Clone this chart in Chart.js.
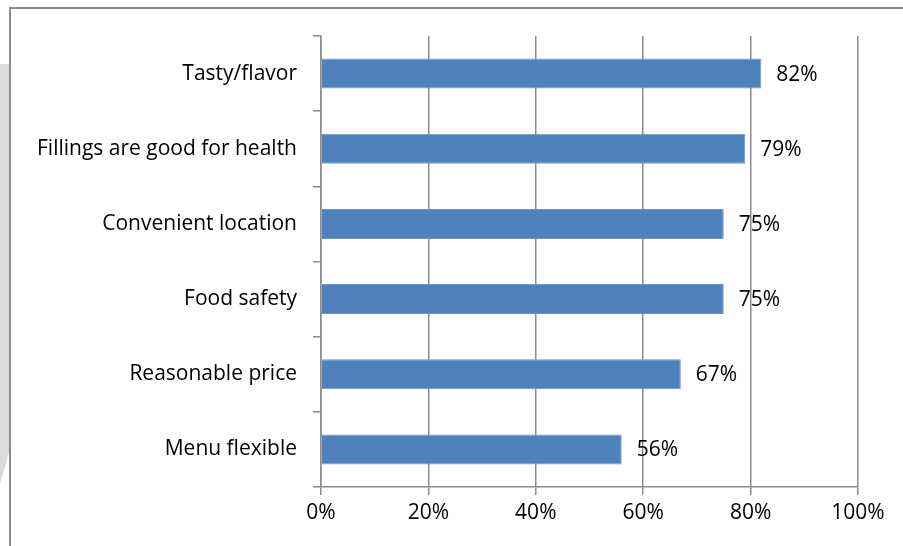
<!DOCTYPE html>
<html lang="en">
<head>
  <meta charset="UTF-8">
  <title>Reasons for choosing</title>
  <script src="https://cdn.jsdelivr.net/npm/chart.js"></script>
  <style>
    body { margin: 0; background: #fff; }
    #shadow { position: absolute; left: 0; top: 64px; width: 12px; height: 420px; background: #dcdcdc;
              clip-path: polygon(0 0, 100% 0, 100% 90%, 0 100%); }
    #frame { position: absolute; left: 9px; top: 7px; width: 900px; height: 560px; border: 2px solid #8c8c8c; background: #fff; }
    #wrap { position: absolute; left: 0; top: 0; width: 903px; height: 546px; }
  </style>
</head>
<body>
<div id="shadow"></div>
<div id="frame"></div>
<div id="wrap"><canvas id="reasons"></canvas></div>

<script>
  const categories = ['Tasty/flavor', 'Fillings are good for health', 'Convenient location',
                      'Food safety', 'Reasonable price', 'Menu flexible'];
  const shares = [82, 79, 75, 75, 67, 56];
  const xTicks = [0, 20, 40, 60, 80, 100];

  const font = { family: "'Open Sans', 'Noto Sans', sans-serif", size: 21 };

  // value labels to the right of each bar
  const valueLabels = {
    id: 'valueLabels',
    afterDatasetsDraw(chart) {
      const c = chart.ctx;
      const meta = chart.getDatasetMeta(0);
      c.save();
      c.font = font.size + 'px ' + font.family;
      c.fillStyle = '#000';
      c.textBaseline = 'middle';
      meta.data.forEach((bar, i) => {
        c.fillText(shares[i] + '%', bar.x + 15, bar.y + 1);
      });
      c.restore();
    }
  };

  new Chart(document.getElementById('reasons'), {
    type: 'bar',
    data: {
      labels: categories,
      datasets: [{
        data: shares,
        backgroundColor: '#4f81bd',
        borderColor: '#6d97c9',
        borderWidth: 1,
        barPercentage: 0.8,
        categoryPercentage: 0.5
      }]
    },
    options: {
      indexAxis: 'y',
      responsive: true,
      maintainAspectRatio: false,
      animation: false,
      layout: { padding: { top: 36, right: 45, left: 0, bottom: 0 } },
      plugins: { legend: { display: false }, tooltip: { enabled: false } },
      scales: {
        x: {
          min: 0, max: 100,
          afterBuildTicks(scale) { scale.ticks = xTicks.map(v => ({ value: v })); },
          afterFit(scale) { scale.height = 59; },
          ticks: { callback: v => v + '%', color: '#000', font: font, padding: 5 },
          grid: { color: '#8c8c8c', lineWidth: 1.5, tickLength: 8 },
          border: { color: '#8c8c8c', width: 1.5 }
        },
        y: {
          afterFit(scale) { scale.width = 321; },
          ticks: { color: '#000', font: font, padding: 16 },
          grid: { offset: true, drawOnChartArea: false, color: '#8c8c8c', lineWidth: 1.5, tickLength: 8 },
          border: { color: '#8c8c8c', width: 1.5 }
        }
      }
    },
    plugins: [valueLabels]
  });
</script>
</body>
</html>
